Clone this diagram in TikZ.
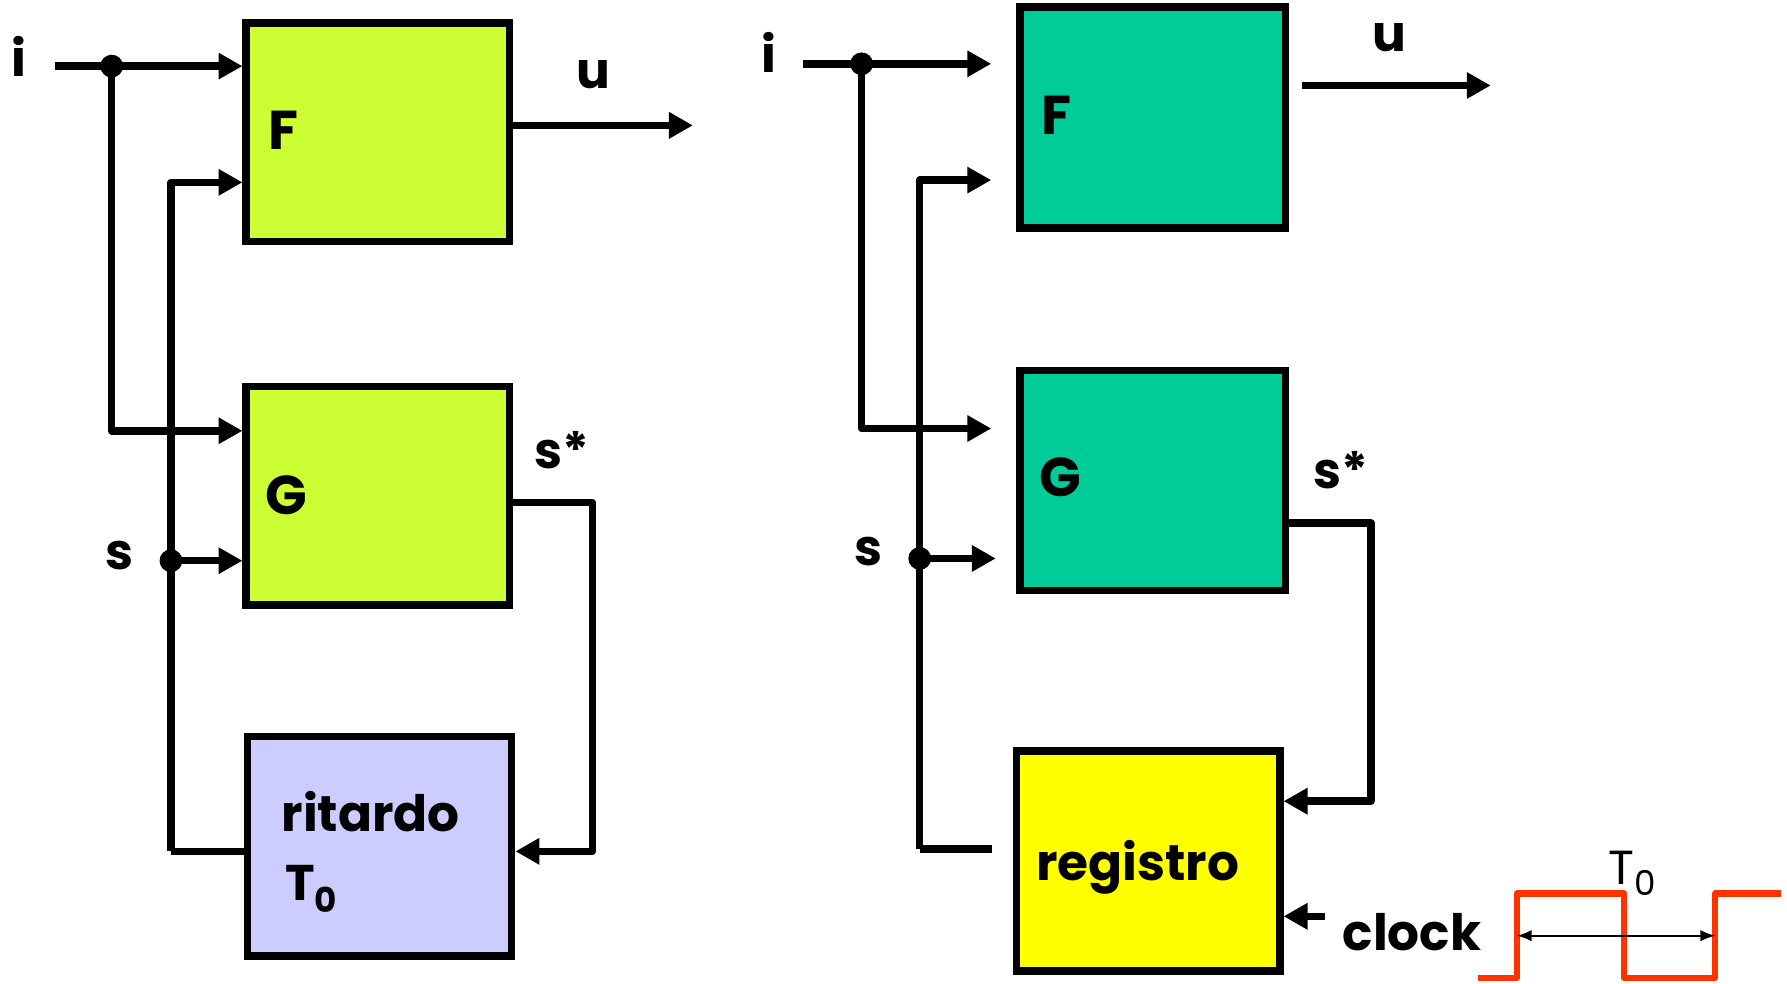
\documentclass[tikz,border=0pt]{standalone}
\usepackage{fontspec}
\setmainfont{Poppins}
\usetikzlibrary{arrows.meta,calc}

\definecolor{cLime}{HTML}{CCFF33}
\definecolor{cLav}{HTML}{CCCCFF}
\definecolor{cTeal}{HTML}{00CC99}
\definecolor{cYel}{HTML}{FFFF00}
\definecolor{cClk}{HTML}{FF3300}

\begin{document}
\begin{tikzpicture}[x=1pt,y=-1pt,
  blk/.style={draw=black, line width=6.5pt, inner sep=0pt, outer sep=3.25pt},
  wire/.style={draw=black, line width=6.5pt, line join=round},
  arr/.style={-{Triangle[length=21pt,width=22pt]}},
  dot/.style={circle, fill=black, minimum size=20pt, inner sep=0pt},
  lbl/.style={font=\fontsize{44}{50}\selectfont\bfseries, inner sep=0pt, anchor=base west},
  caplbl/.style={lbl, font=\fontsize{48}{54}\selectfont\bfseries}]

\useasboundingbox (0,0) rectangle (1568,863);

% ---------------- left: F, G and the delay element ----------------
\node[blk, fill=cLime, minimum width=231pt, minimum height=192pt] (FL) at (331.5,116) {};
\node[blk, fill=cLime, minimum width=231pt, minimum height=192pt] (GL) at (331.5,435) {};
\node[blk, fill=cLav,  minimum width=232pt, minimum height=193pt] (RL) at (333,742.5) {};

\node[caplbl] (tFL) at (235,131) {F};
\node[caplbl] (tGL) at (233,451) {G};
\node[lbl] (tRL) at (247,730) {ritardo};
\node[lbl] (tTL) at (250,790) {T\raisebox{-11pt}{\fontsize{30}{30}\selectfont 0}};

\coordinate (iL) at (48,58);
\coordinate (cL) at (150,747);
\coordinate (kL) at (520,747);
\coordinate (uL) at (608,110);

\draw[wire,arr] (iL) -- (FL.west |- iL);
\draw[wire,arr] (98,58) |- ($(GL.west)+(0,-57)$);
\draw[wire,arr] (cL) |- ($(FL.west)+(0,44)$);
\draw[wire] (cL) -- (RL.west |- cL);
\draw[wire,arr] (150,492) -- (GL.west |- 150,492);
\draw[wire,arr] ($(FL.east)+(0,-6)$) -- (uL);
\draw[wire,arr] ($(GL.east)+(0,6)$) -| (kL) -- (RL.east |- kL);

\node[dot] (dL) at (98,58) {};
\node[dot] (sL) at (150,492) {};

\node[lbl] (liL) at (10,67) {i};
\node[lbl] (luL) at (506,78) {u};
\node[lbl] (lsL) at (92,500) {s};
\node[lbl] (lkL) at (469,411) {s*};

% ---------------- right: F, G and the clocked register ----------------
\node[blk, fill=cTeal, minimum width=233pt, minimum height=194pt] (FR) at (1011.5,103) {};
\node[blk, fill=cTeal, minimum width=233pt, minimum height=193pt] (GR) at (1011.5,421.5) {};
\node[blk, fill=cYel,  minimum width=231pt, minimum height=193pt] (REG) at (1007.5,755.5) {};

\node[caplbl] (tFR) at (914,118) {F};
\node[caplbl] (tGR) at (912,436) {G};
\node[lbl] (tREG) at (909,773) {registro};

\coordinate (iR) at (705,56);
\coordinate (cR) at (807,745);
\coordinate (kR) at (1203,703);
\coordinate (uR) at (1308,75);
\coordinate (ck) at (1163,804);

\draw[wire,arr] (iR) -- ($(FR.west |- iR)+(-22,0)$);
\draw[wire,arr] (756,56) |- ($(GR.west)+(-22,-45.5)$);
\draw[wire,arr] (cR) |- ($(FR.west)+(-22,55)$);
\draw[wire] (cR) -- ($(REG.west |- cR)+(-18,0)$);
\draw[wire,arr] (807,490) -- ($(GR.west |- 807,490)+(-18,0)$);
\draw[wire,arr] ($(FR.east)+(11,-28)$) -- (uR);
\draw[wire,arr] ($(GR.east)+(0,37.5)$) -| (kR) -- (REG.east |- kR);
\draw[wire,arr] (ck) -- (REG.east |- ck);

\node[dot] (dR) at (756,56) {};
\node[dot] (sR) at (807,490) {};

\node[lbl] (liR) at (668,64) {i};
\node[lbl] (luR) at (1204,45) {u};
\node[lbl] (lsR) at (750,496) {s};
\node[lbl] (lkR) at (1152,429) {s*};
\node[lbl] (lck) at (1178,834) {clock};

% clock waveform with its period
\coordinate (w0) at (1297,858);
\coordinate (w1) at (1331,858);
\coordinate (w2) at (1331,784);
\coordinate (w3) at (1425,784);
\coordinate (w4) at (1425,858);
\coordinate (w5) at (1505,858);
\coordinate (w6) at (1505,784);
\coordinate (w7) at (1563,784);
\draw[cClk, line width=5.5pt, line join=round]
  (w0) -- (w1) -- (w2) -- (w3) -- (w4) -- (w5) -- (w6) -- (w7);
\coordinate (pa) at (1331,821);
\coordinate (pb) at (1505,821);
\draw[line width=1.6pt, {Latex[length=13pt,width=10pt]}-{Latex[length=13pt,width=10pt]}] (pa) -- (pb);
\node[inner sep=0pt, anchor=base west, font=\fontsize{42}{46}\selectfont] (lT) at (1411,776)
  {T\raisebox{-10pt}{\fontsize{30}{30}\selectfont 0}};

\end{tikzpicture}
\end{document}
